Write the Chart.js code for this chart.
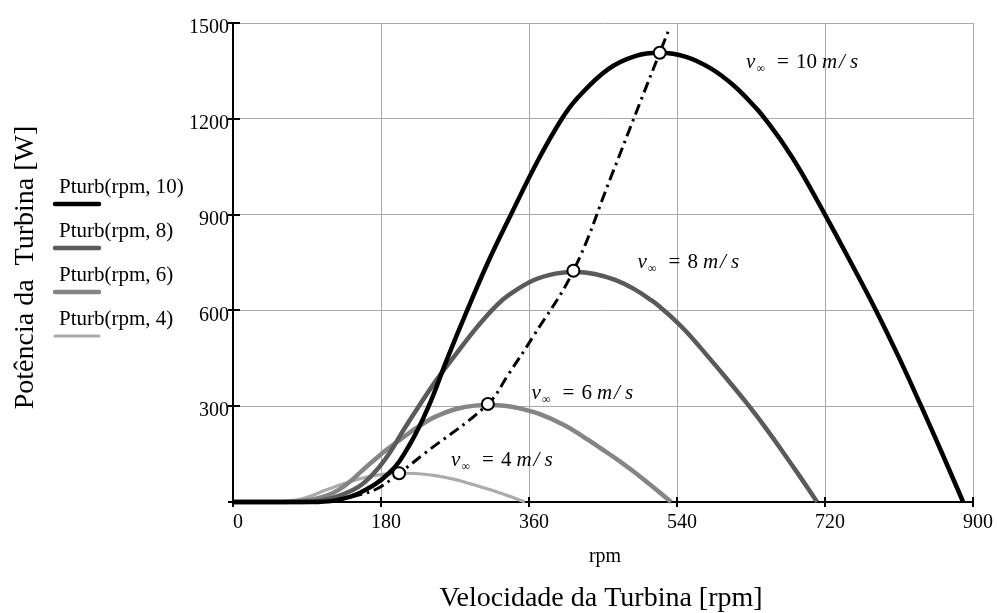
<!DOCTYPE html>
<html>
<head>
<meta charset="utf-8">
<script src="https://cdn.jsdelivr.net/npm/chart.js@4.4.1/dist/chart.umd.min.js"></script>
<style>
  html, body { margin: 0; padding: 0; background: #fff; }
  #wrap { width: 997px; height: 613px; position: relative; }
</style>
</head>
<body>
<div id="wrap"><canvas id="c"></canvas></div>
<script>
// ---- data ----
const xTicks = [0, 180, 360, 540, 720, 900];
const yTicks = [0, 300, 600, 900, 1200, 1500];

const seriesNames = ['Pturb(rpm, 10)', 'Pturb(rpm, 8)', 'Pturb(rpm, 6)', 'Pturb(rpm, 4)'];

const rpm10 = [0,60,100,126,154,190,215,238,260,284,310,339,371,400,420,456,490,519,550,581,610,637,647,670,690,720,750,782,810,837,862,888];
const p10   = [0,0,0,6,28,91,180,300,445,595,750,905,1070,1200,1268,1355,1397,1407,1395,1358,1302,1231,1200,1119,1038,900,757,600,452,300,155,0];

const rpm8 = [0,48,80,100.8,123.2,152,172,190.4,208,227.2,248,271.2,296.8,320,336,364.8,392,415.2,440,464.8,488,509.6,517.6,536,552,576,600,625.6,648,669.6,689.6,710.4];
const p8   = [0,0,0,3.1,14.3,46.6,92.2,153.6,227.8,304.6,384,463.4,547.8,614.4,649.2,693.8,715.3,720.4,714.2,695.3,666.6,630.3,614.4,572.9,531.5,460.8,387.6,307.2,231.4,153.6,79.4,0];

const rpm6 = [0,36,60,75.6,92.4,114,129,142.8,156,170.4,186,203.4,222.6,240,252,273.6,294,311.4,330,348.6,366,382.2,388.2,402,414,432,450,469.2,486,502.2,517.2,532.8];
const p6   = [0,0,0,1.3,6,19.7,38.9,64.8,96.1,128.5,162,195.5,231.1,259.2,273.9,292.7,301.8,303.9,301.3,293.3,281.2,265.9,259.2,241.7,224.2,194.4,163.5,129.6,97.6,64.8,33.5,0];

const rpm4 = [0,24,40,50.4,61.6,76,86,95.2,104,113.6,124,135.6,148.4,160,168,182.4,196,207.6,220,232.4,244,254.8,258.8,268,276,288,300,312.8,324,334.8,344.8,355.2];
const p4   = [0,0,0,0.4,1.8,5.8,11.5,19.2,28.5,38.1,48,57.9,68.5,76.8,81.2,86.7,89.4,90,89.3,86.9,83.3,78.8,76.8,71.6,66.4,57.6,48.4,38.4,28.9,19.2,9.9,0];

// maximum-power locus (dash-dot) and its marked points
const mpptRpm = [144,174,202,232,310,335,365,414,460,496,519,531];
const mpptP   = [16,40,90,150,307,400,518,724,1020,1257,1407,1485];
const peakRpm = [202,310,414,519];
const peakP   = [90,307,724,1407];

// curve labels: wind speed, anchored at (rpm, W)
const labelSpeeds = ['10', '8', '6', '4'];
const labelRpm = [624, 492, 363, 265];
const labelP   = [1359, 733, 323, 113];

// ---- styling ----
const SERIF = '"Liberation Serif", "Times New Roman", serif';
const colors = ['#000000', '#5a5a5a', '#858585', '#ababab'];
const widths = [4.5, 4.5, 4.5, 3.2];

const zip = (xs, ys) => xs.map((x, i) => ({ x: x, y: ys[i] }));
const curves = [[rpm10, p10], [rpm8, p8], [rpm6, p6], [rpm4, p4]];

const datasets = curves.map((c, i) => ({
  label: seriesNames[i],
  data: zip(c[0], c[1]),
  borderColor: colors[i],
  borderWidth: widths[i],
  pointRadius: 0,
  pointHoverRadius: 0,
  fill: false,
  tension: 0.4,
  clip: 6,
  order: 10 + i
}));
datasets.push({
  label: 'mppt',
  data: zip(mpptRpm, mpptP),
  borderColor: '#000',
  borderWidth: 3,
  borderDash: [11, 5, 2.5, 5],
  pointRadius: 0,
  pointHoverRadius: 0,
  fill: false,
  tension: 0.4,
  clip: 6,
  order: 2
});
datasets.push({
  label: 'peaks',
  data: zip(peakRpm, peakP),
  showLine: false,
  pointRadius: 6,
  pointBorderWidth: 2,
  pointBackgroundColor: '#fff',
  pointBorderColor: '#000',
  clip: 10,
  order: 1
});

const overlay = {
  id: 'overlay',
  beforeDatasetsDraw(chart) {
    const ctx = chart.ctx, xs = chart.scales.x, ys = chart.scales.y, ca = chart.chartArea;
    ctx.save();
    ctx.strokeStyle = '#000';
    ctx.lineWidth = 2;
    ctx.beginPath();
    xTicks.forEach(v => {
      const px = Math.round(xs.getPixelForValue(v));
      ctx.moveTo(px, ca.bottom - 5); ctx.lineTo(px, ca.bottom + 5);
    });
    yTicks.forEach(v => {
      const py = Math.round(ys.getPixelForValue(v));
      ctx.moveTo(ca.left - 5, py); ctx.lineTo(ca.left + 7, py);
    });
    ctx.stroke();
    ctx.restore();
  },
  afterDraw(chart) {
    const ctx = chart.ctx, xs = chart.scales.x, ys = chart.scales.y, ca = chart.chartArea;
    ctx.save();
    ctx.fillStyle = '#000';
    ctx.textBaseline = 'alphabetic';

    // y axis title
    ctx.save();
    ctx.translate(33, (ca.top + ca.bottom) / 2 + 5);
    ctx.rotate(-Math.PI / 2);
    ctx.font = '28px ' + SERIF;
    ctx.textAlign = 'center';
    ctx.fillText('Potência da  Turbina [W]', 0, 0);
    ctx.restore();

    // x axis titles
    ctx.textAlign = 'center';
    ctx.font = '20px ' + SERIF;
    ctx.fillText('rpm', (ca.left + ca.right) / 2 + 2, ca.bottom + 60);
    ctx.font = '28px ' + SERIF;
    ctx.fillText('Velocidade da Turbina [rpm]', (ca.left + ca.right) / 2 - 2, ca.bottom + 104);

    // legend
    ctx.textAlign = 'left';
    for (let i = 0; i < seriesNames.length; i++) {
      const base = 193 + i * 44;
      ctx.font = '21px ' + SERIF;
      ctx.fillText(seriesNames[i], 59, base);
      ctx.beginPath();
      ctx.strokeStyle = colors[i];
      ctx.lineWidth = widths[i];
      ctx.lineCap = 'round';
      ctx.moveTo(55, base + 11);
      ctx.lineTo(99, base + 11);
      ctx.stroke();
    }

    // curve labels  v∞ = N m/s
    for (let i = 0; i < labelSpeeds.length; i++) {
      const px = xs.getPixelForValue(labelRpm[i]);
      const py = ys.getPixelForValue(labelP[i]);
      ctx.textAlign = 'left';
      ctx.font = 'italic 21px ' + SERIF;
      ctx.fillText('v', px, py);
      ctx.font = '12px ' + SERIF;
      ctx.fillText('\u221E', px + 10.5, py + 4);
      ctx.font = '21px ' + SERIF;
      ctx.fillText('=', px + 31, py);
      ctx.fillText(labelSpeeds[i], px + 50, py);
      const w = ctx.measureText(labelSpeeds[i]).width;
      const mx = px + 50 + w + 5;
      ctx.font = 'italic 21px ' + SERIF;
      ctx.fillText('m', mx, py);
      ctx.fillText('/', mx + 17, py);
      ctx.fillText('s', mx + 28, py);
    }
    ctx.restore();
  }
};

new Chart(document.getElementById('c'), {
  type: 'line',
  data: { datasets: datasets },
  options: {
    responsive: true,
    maintainAspectRatio: false,
    animation: false,
    events: [],
    layout: { padding: { top: 23, right: 20, left: 0, bottom: 0 } },
    plugins: { legend: { display: false }, tooltip: { enabled: false }, title: { display: false } },
    scales: {
      x: {
        type: 'linear',
        min: 0, max: 900,
        afterFit(scale) { scale.height = 111; },
        afterBuildTicks(scale) { scale.ticks = xTicks.map(v => ({ value: v })); },
        ticks: {
          color: '#000',
          font: { family: SERIF, size: 20 },
          padding: 9,
          labelOffset: 5,
          maxRotation: 0
        },
        grid: { color: '#aaaaaa', lineWidth: 1, drawTicks: false },
        border: { color: '#000', width: 2 }
      },
      y: {
        type: 'linear',
        min: 0, max: 1500,
        afterFit(scale) { scale.width = 233; },
        afterBuildTicks(scale) { scale.ticks = yTicks.map(v => ({ value: v })); },
        ticks: {
          color: '#000',
          font: { family: SERIF, size: 20 },
          padding: 4,
          labelOffset: 5,
          callback: v => (v === 0 ? '' : String(v))
        },
        grid: { color: '#aaaaaa', lineWidth: 1, drawTicks: false },
        border: { color: '#000', width: 2 }
      }
    }
  },
  plugins: [overlay]
});
</script>
</body>
</html>
